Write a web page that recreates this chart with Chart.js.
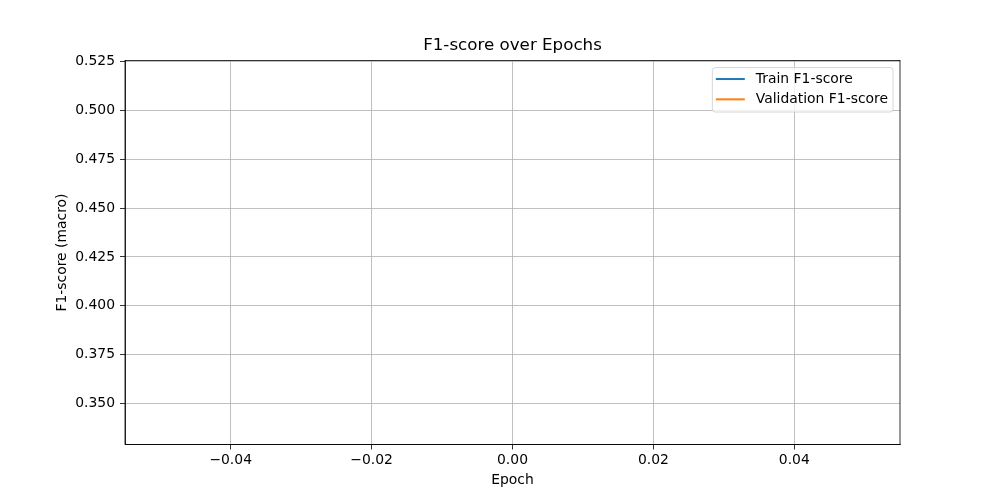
<!DOCTYPE html>
<html>
<head>
<meta charset="utf-8">
<script src="https://cdn.jsdelivr.net/npm/chart.js@4.4.1/dist/chart.umd.min.js"></script>
<style>
  html, body { margin: 0; padding: 0; background: #fff; }
  #wrap { width: 1000px; height: 500px; }
</style>
</head>
<body>
<div id="wrap"><canvas id="chart" width="1000" height="500"></canvas></div>
<script>
const epochs = [0];
const trainF1 = [0.3379];
const valF1 = [0.5166];
const xTicks = [-0.04, -0.02, 0.00, 0.02, 0.04];
const yTicks = [0.350, 0.375, 0.400, 0.425, 0.450, 0.475, 0.500, 0.525];

const FONT = 'DejaVu Sans';
const TRAIN_COLOR = '#1f77b4';
const VAL_COLOR = '#ff7f0e';

// matplotlib style autoscale: 5% margin around the data
const allY = trainF1.concat(valF1);
const yLo = Math.min(...allY), yHi = Math.max(...allY);
const yPad = (yHi - yLo) * 0.05;
const xLo = Math.min(...epochs) - 0.05, xHi = Math.max(...epochs) + 0.05;
const xPad = (xHi - xLo) * 0.05;

function fmtMinus(s) {
    return s.replace('-', '\u2212');
}

// center the title over the axes, not the whole canvas
const titleCenterPlugin = {
    id: 'titleCenter',
    afterLayout(chart) {
        const t = chart.titleBlock;
        if (t) {
            t.left = chart.chartArea.left;
            t.right = chart.chartArea.right;
            t.width = t.right - t.left;
        }
    }
};

// full axes frame (top + right edges)
const framePlugin = {
    id: 'frame',
    afterDraw(chart) {
        const { ctx, chartArea: a } = chart;
        ctx.save();
        ctx.strokeStyle = '#000';
        ctx.lineWidth = 0.8;
        ctx.strokeRect(a.left, a.top, a.right - a.left, a.bottom - a.top);
        ctx.restore();
    }
};

// legend in the upper right corner, inside the axes
const legendPlugin = {
    id: 'mplLegend',
    afterDraw(chart) {
        const { ctx, chartArea: a } = chart;
        const sets = chart.data.datasets;
        ctx.save();
        ctx.font = '13.9px "' + FONT + '"';
        const textW = Math.max(...sets.map(d => ctx.measureText(d.label).width));
        const boxW = 3.5 + 29 + 11 + textW + 5;
        const boxH = 44.5;
        const x = a.right - 7 - boxW;
        const y = a.top + 7;
        ctx.beginPath();
        ctx.roundRect(x, y, boxW, boxH, 3);
        ctx.fillStyle = 'rgba(255,255,255,0.8)';
        ctx.fill();
        ctx.strokeStyle = '#cccccc';
        ctx.lineWidth = 0.8;
        ctx.stroke();
        sets.forEach((d, i) => {
            const ly = y + 11.5 + i * 20.3;
            ctx.beginPath();
            ctx.moveTo(x + 3.5, ly);
            ctx.lineTo(x + 32.5, ly);
            ctx.strokeStyle = d.borderColor;
            ctx.lineWidth = 2;
            ctx.stroke();
            ctx.fillStyle = '#000';
            ctx.textBaseline = 'middle';
            ctx.fillText(d.label, x + 43.5, ly + 0.5);
        });
        ctx.restore();
    }
};

const ctx = document.getElementById('chart').getContext('2d');
const chart = new Chart(ctx, {
    type: 'line',
    data: {
        datasets: [{
            label: 'Train F1-score',
            data: epochs.map((e, i) => ({ x: e, y: trainF1[i] })),
            borderColor: TRAIN_COLOR,
            borderWidth: 1.5,
            pointRadius: 0,
            fill: false
        }, {
            label: 'Validation F1-score',
            data: epochs.map((e, i) => ({ x: e, y: valF1[i] })),
            borderColor: VAL_COLOR,
            borderWidth: 1.5,
            pointRadius: 0,
            fill: false
        }]
    },
    options: {
        responsive: false,
        animation: false,
        layout: { padding: { left: 0, right: 100, top: 0, bottom: 0 } },
        plugins: {
            legend: { display: false },
            tooltip: { enabled: false },
            title: {
                display: true,
                text: 'F1-score over Epochs',
                color: '#000',
                font: { family: FONT, size: 16.7, weight: 'normal' },
                padding: { top: 36, bottom: 4.5 }
            }
        },
        scales: {
            x: {
                type: 'linear',
                min: xLo - xPad,
                max: xHi + xPad,
                afterBuildTicks: s => { s.ticks = xTicks.map(v => ({ value: v })); },
                afterFit: s => { s.height = 55.5; },
                ticks: {
                    color: '#000',
                    font: { family: FONT, size: 13.9 },
                    padding: 3,
                    maxRotation: 0,
                    callback: v => fmtMinus(v.toFixed(2))
                },
                grid: { color: '#b0b0b0', lineWidth: 0.8, tickColor: '#000', tickLength: 5 },
                border: { display: true, color: '#000', width: 0.8 },
                title: {
                    display: true,
                    text: 'Epoch',
                    color: '#000',
                    font: { family: FONT, size: 13.9 },
                    padding: { top: 0, bottom: 11.5 }
                }
            },
            y: {
                type: 'linear',
                min: yLo - yPad,
                max: yHi + yPad,
                afterBuildTicks: s => { s.ticks = yTicks.map(v => ({ value: v })); },
                afterFit: s => { s.width = 125; },
                ticks: {
                    color: '#000',
                    font: { family: FONT, size: 13.9 },
                    padding: 5,
                    callback: v => fmtMinus(v.toFixed(3))
                },
                grid: { color: '#b0b0b0', lineWidth: 0.8, tickColor: '#000', tickLength: 5 },
                border: { display: true, color: '#000', width: 0.8 },
                title: {
                    display: true,
                    text: 'F1-score (macro)',
                    color: '#000',
                    font: { family: FONT, size: 13.9 },
                    padding: { top: 54.5, bottom: 0 }
                }
            }
        }
    },
    plugins: [titleCenterPlugin, framePlugin, legendPlugin]
});
</script>
</body>
</html>
